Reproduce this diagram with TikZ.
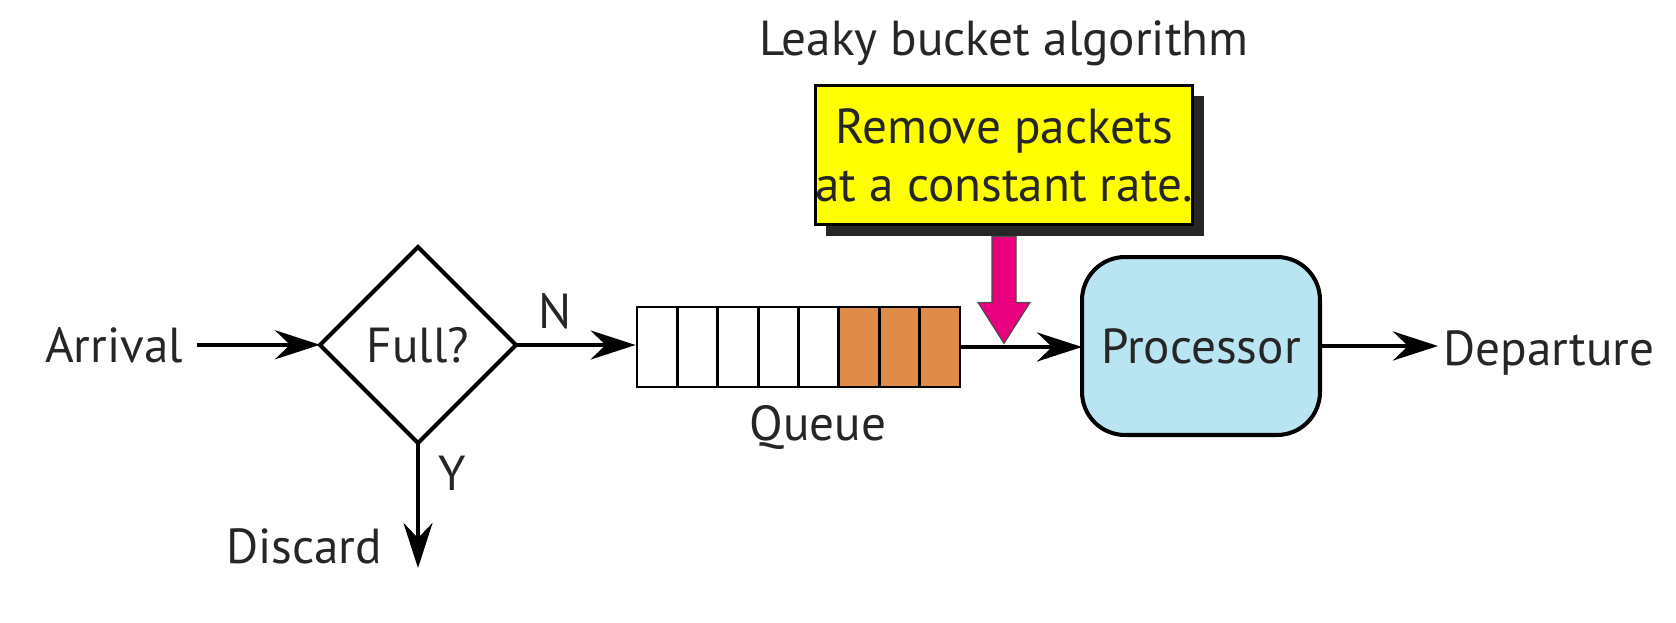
\documentclass[tikz,border=0pt]{standalone}
\usepackage{fontspec}
\setmainfont{PT Sans}
\usetikzlibrary{arrows.meta}
\usetikzlibrary{shapes.geometric}
\usetikzlibrary{shadows}
\definecolor{notefill}{RGB}{255,255,0}
\definecolor{leakfill}{RGB}{232,0,124}
\definecolor{packetfill}{RGB}{222,140,72}
\definecolor{cpufill}{RGB}{185,228,242}
\tikzstyle{word}=[inner sep=0, outer sep=0, text height=19.6pt, text depth=0pt, text=black!85]
\tikzstyle{flow}=[line width=2.3pt, -{Stealth[length=0.9cm, width=0.58cm, inset=0.3cm]}]
\tikzstyle{decision}=[word, draw, diamond, line width=2.3pt, minimum width=3.92cm, minimum height=3.92cm]
\tikzstyle{slot}=[draw, line width=1.6pt, inner sep=0, minimum width=0.8075cm, minimum height=1.6cm]
\tikzstyle{cpu}=[word, draw, line width=2.3pt, rounded corners=0.86cm, fill=cpufill,
                 minimum width=4.76cm, minimum height=3.56cm]
\tikzstyle{note}=[draw, line width=1.7pt, fill=notefill, inner sep=0, align=center, text=black!85,
                  minimum width=7.56cm, minimum height=2.8cm,
                  drop shadow={shadow xshift=0.22cm, shadow yshift=-0.22cm, fill=black!85, opacity=1}]
\tikzstyle{leak}=[fill=leakfill, draw=black!70, line width=0.6pt]
\tikzstyle{bucketflow}=[x=0.02cm, y=-0.02cm,
                        % Same type size for every text.
                        every node/.style={font=\fontsize{28}{33}\selectfont}]

\begin{document}
\begin{tikzpicture}[bucketflow]
        \useasboundingbox (0, 0) rectangle (1676, 622);
        \node[word, anchor=base east, outer xsep=8pt] (arrival) at (197, 362) {Arrival};
        \node[decision]                (full)      at (418, 345) {Full?};
        \foreach \i in {1,...,8} {
            \ifnum\i>5 \def\slotfill{packetfill}\else \def\slotfill{white}\fi
            \node[slot, fill=\slotfill] (q\i) at (637 + 40.375*\i - 20.19, 347) {};
        }
        \node[word, anchor=base]       (queue)     at (818, 440) {Queue};
        \node[cpu]                     (cpu)       at (1201, 346) {Processor};
        \node[word, anchor=base west, outer xsep=3pt] (departure) at (1438, 365) {Departure};
        \coordinate (bin) at (418, 568);
        \node[word, anchor=base east]  (discard)   at (382, 563) {Discard};
        \node[note, label={[word, label distance=0.56cm]above:Leaky bucket algorithm}]
                                       (note)      at (1004, 155) {Remove packets\\at a constant rate.};
        \draw[flow] (arrival.east) -- (arrival.east -| full.west);
        \draw[flow] (full.east) -- node[word, above=0.34cm, pos=0.33] {N} (full.east -| q1.west);
        \draw[flow] (full.south) -- node[word, right=0.4cm, pos=0.24] {Y} (bin);
        \draw[flow] (q8.east) -- (q8.east -| cpu.west);
        \draw[flow] (cpu.east) -- (cpu.east -| departure.west);
        \coordinate (drip) at ([yshift=2pt]note.south |- q8.east);
        \filldraw[leak] (drip) -- ++(-26, -41) -- ++(14, 0) -- ++(0, -66) -- ++(24, 0)
                        -- ++(0, 66) -- ++(14, 0) -- cycle;
    \end{tikzpicture}
\end{document}
